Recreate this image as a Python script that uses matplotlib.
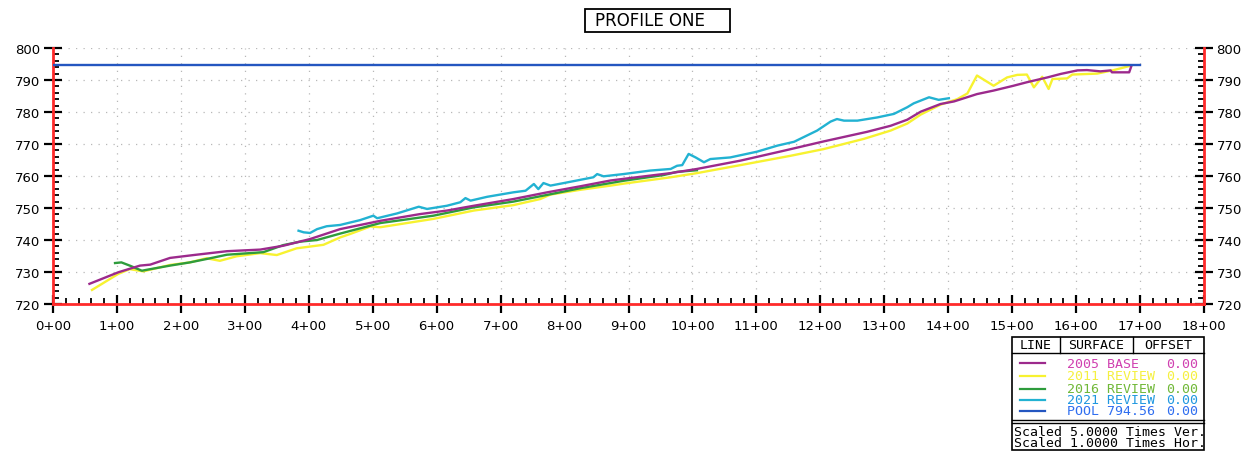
import matplotlib
matplotlib.use("Agg")
import matplotlib.pyplot as plt
from matplotlib.patches import Rectangle
from matplotlib.lines import Line2D
from matplotlib.ticker import MultipleLocator, FuncFormatter

# Profile data (station in ft, elevation in ft)
base_sta = [57, 102, 136, 152, 183, 220, 272, 324, 360, 402, 449, 512, 574, 616, 658,
            720, 773, 825, 872, 892, 966, 1007, 1075, 1143, 1205, 1273, 1310, 1336, 1357,
            1388, 1409, 1445, 1471, 1502, 1523, 1555, 1576, 1602, 1617, 1638, 1654, 1656,
            1683, 1686]
base_elev = [726.3, 729.9, 732.0, 732.3, 734.4, 735.3, 736.5, 737.0, 738.2, 740.3, 743.4,
             746.0, 748.1, 749.2, 750.7, 752.8, 754.9, 756.8, 758.6, 759.1, 760.9, 762.2,
             764.8, 767.9, 770.8, 773.8, 775.7, 777.6, 780.1, 782.5, 783.3, 785.6, 786.7,
             788.2, 789.3, 790.8, 791.9, 793.0, 793.1, 792.7, 793.0, 792.4, 792.4, 794.1]

r2011_sta = [61, 102, 120, 141, 183, 214, 240, 261, 287, 324, 350, 381, 423, 449, 465, 496,
             512, 595, 658, 720, 762, 778, 825, 872, 892, 966, 1007, 1075, 1153, 1205, 1268,
             1310, 1336, 1357, 1388, 1414, 1430, 1445, 1471, 1492, 1508, 1523, 1534, 1547,
             1557, 1563, 1586, 1594, 1633, 1659, 1686]
r2011_elev = [724.4, 729.4, 730.9, 730.2, 732.2, 733.0, 734.3, 733.5, 734.9, 735.9, 735.3,
              737.4, 738.5, 740.8, 741.9, 744.2, 744.0, 746.6, 749.2, 750.9, 752.8, 754.2,
              755.7, 757.0, 757.6, 759.6, 760.9, 763.4, 766.3, 768.4, 771.6, 774.2, 776.4,
              779.2, 782.3, 784.0, 785.8, 791.4, 788.2, 790.8, 791.6, 791.7, 787.7, 791.0,
              787.2, 790.3, 790.5, 791.7, 792.0, 793.1, 794.5]

r2016_sta = [97, 107, 120, 139, 147, 183, 214, 246, 272, 329, 360, 387, 413, 449, 512, 595,
             658, 720, 773, 825, 872, 892, 955, 976, 1007]
r2016_elev = [732.8, 733.0, 732.0, 730.4, 730.7, 732.0, 733.0, 734.3, 735.4, 736.2, 738.4,
              739.5, 740.0, 742.0, 745.3, 747.6, 750.2, 752.0, 754.1, 756.2, 757.8, 758.5,
              760.3, 761.3, 761.8]

r2021_sta = [384, 392, 402, 413, 428, 449, 480, 501, 507, 538, 572, 585, 616, 637, 645, 653,
             679, 720, 739, 752, 759, 767, 778, 799, 845, 851, 861, 892, 934, 966, 976, 984,
             994, 1005, 1018, 1028, 1059, 1101, 1133, 1159, 1195, 1216, 1226, 1237, 1258,
             1289, 1315, 1336, 1346, 1370, 1385, 1401]
r2021_elev = [742.9, 742.4, 742.2, 743.4, 744.3, 744.7, 746.2, 747.6, 746.8, 748.3, 750.4,
              749.7, 750.7, 751.8, 753.1, 752.3, 753.5, 754.9, 755.4, 757.5, 755.9, 757.8,
              757.0, 757.8, 759.6, 760.6, 759.9, 760.6, 761.7, 762.2, 763.2, 763.4, 766.9,
              765.8, 764.3, 765.3, 765.8, 767.6, 769.5, 770.7, 774.2, 777.0, 777.8, 777.3,
              777.3, 778.3, 779.4, 781.5, 782.7, 784.6, 783.8, 784.3]

pool_sta = [0, 1700]
pool_elev = [794.56, 794.56]

legend_names = ["2005 BASE", "2011 REVIEW", "2016 REVIEW", "2021 REVIEW", "POOL 794.56"]
legend_offsets = ["0.00", "0.00", "0.00", "0.00", "0.00"]
line_colors = ["#9c2a8c", "#f7f230", "#2e9c3c", "#22b2d2", "#2456c0"]
text_colors = ["#d040b0", "#f5f040", "#70b838", "#2098e0", "#2f6ef0"]

W, H = 1248, 452
fig = plt.figure(figsize=(W / 100, H / 100), dpi=100)
ax = fig.add_axes([53 / W, 1 - 305 / H, (1204 - 53) / W, (305 - 49) / H])

series = [(base_sta, base_elev), (r2011_sta, r2011_elev), (r2016_sta, r2016_elev),
          (r2021_sta, r2021_elev), (pool_sta, pool_elev)]
order = [1, 2, 0, 3, 4]
for i in order:
    s, e = series[i]
    ax.plot(s, e, color=line_colors[i], lw=1.7, zorder=3)

ax.set_xlim(0, 1800)
ax.set_ylim(720, 800)
ax.xaxis.set_major_locator(MultipleLocator(100))
ax.xaxis.set_minor_locator(MultipleLocator(20))
ax.yaxis.set_major_locator(MultipleLocator(10))
ax.yaxis.set_minor_locator(MultipleLocator(2))
ax.xaxis.set_major_formatter(FuncFormatter(lambda v, p: f"{int(round(v / 100))}+00"))
ax.yaxis.set_major_formatter(FuncFormatter(lambda v, p: f"{int(v)}"))

ax.grid(True, which="major", color="#b8b8b8", linestyle=(0, (1, 5)), lw=0.9)
for side in ["left", "right", "bottom"]:
    ax.spines[side].set_color("#ff2a2a")
    ax.spines[side].set_linewidth(2.0)
ax.spines["top"].set_visible(False)

ax.tick_params(which="both", color="black", left=True, right=True,
               labelright=True, bottom=True, top=False)
ax.tick_params(which="major", direction="inout", length=13, width=1.6, labelsize=9.5)
ax.tick_params(which="minor", direction="in", length=4, width=1.3)
ax.tick_params(axis="y", which="major", pad=2.5)
ax.tick_params(axis="x", which="major", pad=4)

# title box
fig.patches.append(Rectangle((585 / W, 1 - 33 / H), 145 / W, 23 / H,
                             transform=fig.transFigure, fill=False, ec="black", lw=1.3))
fig.text(595 / W, 1 - 21.5 / H, "PROFILE ONE", ha="left", va="center", fontsize=12)


def fx(px):
    return px / W


def fy(py):
    return 1 - py / H


# legend table
mono = "DejaVu Sans Mono"
x0, x1 = 1012, 1204
y0, y1 = 338, 451
fig.patches.append(Rectangle((fx(x0), fy(y1)), fx(x1) - fx(x0), fy(y0) - fy(y1),
                             transform=fig.transFigure, fill=False, ec="black", lw=1.2))
for yy in [354, 421, 424]:
    fig.add_artist(Line2D([fx(x0), fx(x1)], [fy(yy), fy(yy)], color="black", lw=1.0,
                          transform=fig.transFigure))
for xx in [1060, 1133]:
    fig.add_artist(Line2D([fx(xx), fx(xx)], [fy(y0), fy(354)], color="black", lw=1.0,
                          transform=fig.transFigure))
fig.text(fx(1036), fy(346), "LINE", ha="center", va="center", fontsize=9.5, family=mono)
fig.text(fx(1096), fy(346), "SURFACE", ha="center", va="center", fontsize=9.5, family=mono)
fig.text(fx(1168), fy(346), "OFFSET", ha="center", va="center", fontsize=9.5, family=mono)

row_y = [364, 377, 390, 401, 412]
for i, ry in enumerate(row_y):
    fig.add_artist(Line2D([fx(1020), fx(1045)], [fy(ry), fy(ry)], color=line_colors[i],
                          lw=1.6, transform=fig.transFigure))
    fig.text(fx(1067), fy(ry), legend_names[i], ha="left", va="center", fontsize=9.5,
             family=mono, color=text_colors[i])
    fig.text(fx(1198), fy(ry), legend_offsets[i], ha="right", va="center", fontsize=9.5,
             family=mono, color=text_colors[i])

fig.text(fx(1014), fy(433), "Scaled 5.0000 Times Ver.", ha="left", va="center",
         fontsize=9.5, family=mono)
fig.text(fx(1014), fy(444), "Scaled 1.0000 Times Hor.", ha="left", va="center",
         fontsize=9.5, family=mono)

fig.savefig("out.png", dpi=100)
